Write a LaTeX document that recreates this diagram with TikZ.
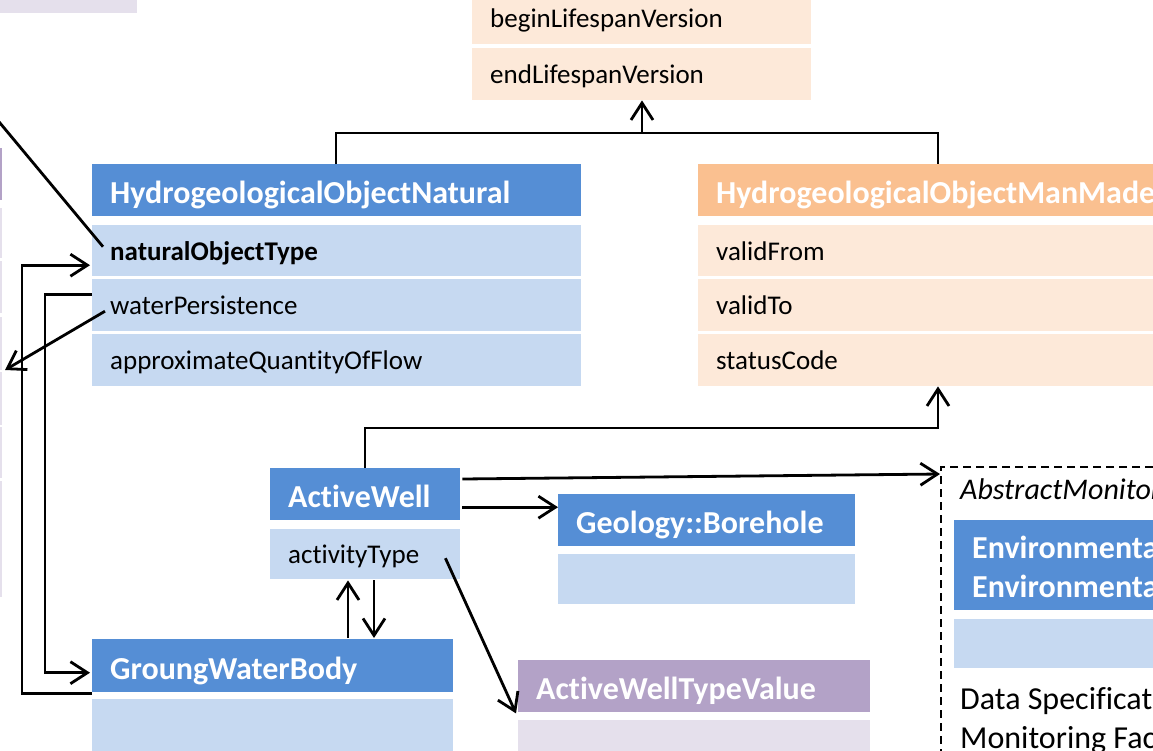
\documentclass[tikz,border=0pt]{standalone}
\usepackage{fontspec}
\setmainfont{Carlito}[Ligatures=NoCommon]
\usetikzlibrary{arrows.meta}
\definecolor{hblue}{HTML}{558ED5}
\definecolor{lblue}{HTML}{C6D9F1}
\definecolor{horange}{HTML}{FAC090}
\definecolor{lorange}{HTML}{FDE9D9}
\definecolor{hpurple}{HTML}{B3A2C7}
\definecolor{lpurple}{HTML}{E5E0EC}
\newcommand\rfont{\fontsize{27}{32}\selectfont}
\newcommand\hfont{\fontsize{32}{39}\selectfont\bfseries}
\begin{document}
\begin{tikzpicture}[x=1pt,y=-1pt,
  part/.style={anchor=north west, inner xsep=18pt, inner ysep=0pt, align=left,
    font=\rfont, text height=20pt, text depth=1pt},
  hdr/.style={part, font=\hfont, text=white, text height=28pt, text depth=1pt},
  ln/.style={line width=2.8pt},
  arr/.style={ln, -{Straight Barb[length=17pt,width=22pt,line width=2.8pt]}}]
\useasboundingbox (0,0) rectangle (1153,750);
\clip (0,0) rectangle (1153,750);

% left partial boxes
\fill[lpurple] (-10,-10) rectangle (137,13);
\fill[hpurple] (-10,148) rectangle (2,200);
\fill[lpurple] (-10,208) rectangle (2,258);
\fill[lpurple] (-10,261) rectangle (2,313);
\fill[lpurple] (-10,317) rectangle (2,370);
\fill[lpurple] (-10,372) rectangle (2,425);
\fill[lpurple] (-10,427) rectangle (2,478);
\fill[lpurple] (-10,481) rectangle (2,597);

% lifespan (top)
\node[part, fill=lorange, text width=303pt, minimum height=52pt] (ls1) at (472,-8) {beginLifespanVersion};
\node[part, fill=lorange, text width=303pt, minimum height=52pt] (ls2) at (472,48) {endLifespanVersion};

% HydrogeologicalObjectNatural
\node[hdr, fill=hblue, text width=453pt, minimum height=52pt] (hon) at (92,164) {HydrogeologicalObjectNatural};
\node[part, fill=lblue, text width=453pt, minimum height=51pt] (nat) at (92,225) {\textbf{naturalObjectType}};
\node[part, fill=lblue, text width=453pt, minimum height=52pt] (wp) at (92,279) {waterPersistence};
\node[part, fill=lblue, text width=453pt, minimum height=52pt] (aq) at (92,334) {approximateQuantityOfFlow};

% HydrogeologicalObjectManMade
\node[hdr, fill=horange, text width=464pt, minimum height=52pt] (homm) at (698,164) {HydrogeologicalObjectManMade};
\node[part, fill=lorange, text width=464pt, minimum height=51pt] (vf) at (698,225) {validFrom};
\node[part, fill=lorange, text width=464pt, minimum height=52pt] (vt) at (698,279) {validTo};
\node[part, fill=lorange, text width=464pt, minimum height=52pt] (sc) at (698,334) {statusCode};

% ActiveWell
\node[hdr, fill=hblue, text width=154pt, minimum height=52pt] (aw) at (270,468) {ActiveWell};
\node[part, fill=lblue, text width=154pt, minimum height=50pt] (awr) at (270,529) {activityType};

% Geology::Borehole
\node[hdr, fill=hblue, text width=261pt, minimum height=52pt] (geo) at (558,494) {Geology::Borehole};
\node[part, fill=lblue, text width=261pt, minimum height=50pt] (geor) at (558,554) {};

% GroungWaterBody
\node[hdr, fill=hblue, text width=325pt, minimum height=53pt] (gwb) at (92,639) {GroungWaterBody};
\node[part, fill=lblue, text width=325pt, minimum height=60pt] (gwbr) at (92,699) {};

% ActiveWellTypeValue
\node[hdr, fill=hpurple, text width=316pt, minimum height=52pt] (awtv) at (518,660) {ActiveWellTypeValue};
\node[part, fill=lpurple, text width=316pt, minimum height=40pt] (awtvr) at (518,720) {};

% AbstractMonitoringFeature (dashed)
\node[draw, line width=2.2pt, dash pattern=on 8pt off 5pt, anchor=north west,
  minimum width=400pt, minimum height=400pt, inner sep=0pt] (amf) at (940,466) {};
\node[anchor=base west, inner sep=0pt, font=\fontsize{30}{36}\selectfont\itshape] (amft) at (960,499) {AbstractMonitoringFeature};
\node[part, fill=hblue, text=white, font=\hfont, text width=564pt, minimum height=90pt, text height=38pt, text depth=52pt] (env) at (954,520)
  {EnvironmentalMonitoringFacilities::\\EnvironmentalMonitoringFacility};
\node[part, fill=lblue, text width=564pt, minimum height=49pt] (envr) at (954,619) {};
\node[anchor=base west, inner sep=0pt, font=\fontsize{32}{39}\selectfont] (ds1) at (960,709) {Data Specification on Environmental};
\node[anchor=base west, inner sep=0pt, font=\fontsize{32}{39}\selectfont] (ds2) at (960,748) {Monitoring Facilities};

% connectors
\coordinate (j) at (642,133);
\draw[ln] ([xshift=244pt]hon.north west) |- (j) -| ([xshift=240pt]homm.north west);
\draw[arr] (j) -- (j |- ls2.south);
\draw[arr] ([xshift=95pt]aw.north west) -- ++(0,-40) -| ([xshift=240pt]sc.south west);
\draw[arr] ([xshift=2pt,yshift=-11pt]aw.north east) -- ([yshift=-8pt]amf.north west);
\draw[arr] ([xshift=2pt,yshift=-13pt]aw.east) -- ([yshift=-13pt]aw.east -| geo.west);
\draw[arr] ([xshift=256pt,yshift=1pt]gwb.north west) -- ([xshift=256pt,yshift=-1pt]gwb.north west |- awr.south);
\draw[arr] ([xshift=104pt,yshift=-1pt]awr.south west) -- ([xshift=104pt,yshift=1pt]awr.south west |- gwb.north);
\draw[arr] ([xshift=-15pt,yshift=-4pt]awr.east) -- ([xshift=-2pt,yshift=-1pt]awtv.south west);
\coordinate (tl) at (-20,99);
\draw[ln] (tl) -- ([xshift=11pt,yshift=4pt]nat.west);
\coordinate (wpend) at (5,370);
\draw[arr] ([xshift=13pt,yshift=-6pt]wp.west) -- (wpend);
\draw[arr] ([yshift=11pt]wp.west) -- ++(-47,0) |- ([xshift=-2pt,yshift=-7pt]gwb.west);
\draw[arr] ([yshift=-28pt]gwb.west) -- ++(-70,0) |- ([xshift=-2pt,yshift=-14.5pt]nat.west);
\end{tikzpicture}
\end{document}
